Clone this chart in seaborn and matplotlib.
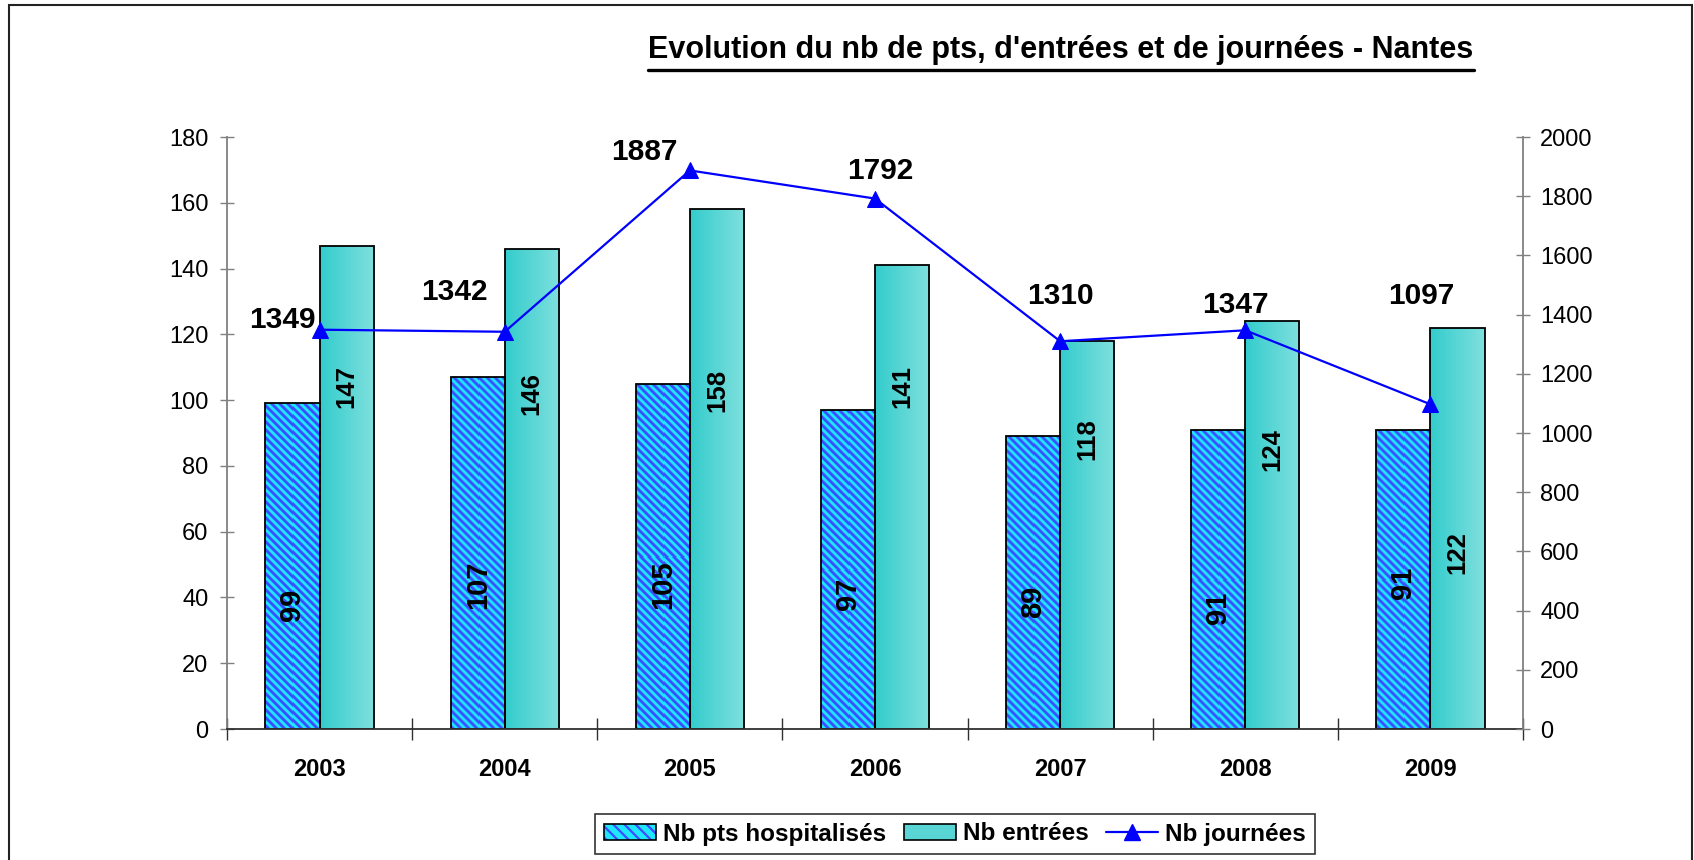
import numpy as np
import pandas as pd
import matplotlib
matplotlib.use("Agg")
import matplotlib.pyplot as plt
import seaborn as sns
from matplotlib.patches import Patch, Rectangle
from matplotlib.lines import Line2D
from matplotlib.colors import LinearSegmentedColormap, to_rgb
from matplotlib.legend_handler import HandlerTuple

# ---------------- data ----------------
years = ["2003", "2004", "2005", "2006", "2007", "2008", "2009"]
nb_pts = [99, 107, 105, 97, 89, 91, 91]
nb_entrees = [147, 146, 158, 141, 118, 124, 122]
nb_journees = [1349, 1342, 1887, 1792, 1310, 1347, 1097]
series_names = ["Nb pts hospitalisés", "Nb entrées", "Nb journées"]
title = "Evolution du nb de pts, d'entrées et de journées - Nantes"

# ---------------- layout (label placement) ----------------
pts_label_y = [37.8, 44, 44, 41, 38.8, 36.8, 44.3]
ent_label_y = [104, 102, 103, 104, 88, 85, 53.5]
journ_label_off_px = [(-37, 10), (-50, 40), (-45, 18), (5, 28), (0, 45), (-10, 25), (-9, 108)]

sns.set_theme(style="white")
plt.rcParams["font.family"] = ["Liberation Sans", "DejaVu Sans"]
plt.rcParams["hatch.linewidth"] = 1.6
plt.rcParams["text.color"] = "black"
plt.rcParams["xtick.labelcolor"] = "black"
plt.rcParams["ytick.labelcolor"] = "black"
plt.rcParams["legend.labelcolor"] = "black"

W, H = 1694, 860
fig = plt.figure(figsize=(W / 100, H / 100), dpi=100)
fig.patch.set_facecolor("white")
ax = fig.add_axes([227 / W, 1 - 729 / H, (1523 - 227) / W, (729 - 137) / H])

df = pd.DataFrame({
    "year": years * 2,
    "value": nb_pts + nb_entrees,
    "serie": [series_names[0]] * len(years) + [series_names[1]] * len(years),
})
sns.barplot(data=df, x="year", y="value", hue="serie", ax=ax, width=0.585,
            palette=["#22E2FF", "#4DD2D2"], saturation=1, edgecolor="black",
            linewidth=1.3, legend=False, errorbar=None)

ax.set_xlim(-0.5, 6.5)
ax.set_ylim(0, 180)

cyan = np.array(to_rgb("#1EE8FF"))
blue = np.array(to_rgb("#3C4CFF"))
period = 8.0

# striped bars (diagonal "\" stripes drawn as a pixel-space image clipped to each bar)
for bar in ax.containers[0]:
    x0, y0, w, h = bar.get_x(), bar.get_y(), bar.get_width(), bar.get_height()
    (px0, py0), (px1, py1) = ax.transData.transform([[x0, y0], [x0 + w, y0 + h]])
    nw, nh = max(int(round(px1 - px0)), 2), max(int(round(py1 - py0)), 2)
    xx, yy = np.meshgrid(np.arange(nw) + px0, np.arange(nh) - py1)
    t = 0.5 + 0.5 * np.cos(2 * np.pi * ((xx - yy) % period) / period)
    t = np.clip((t - 0.5) * 1.4 + 0.5, 0, 1)
    img = cyan[None, None, :] * (1 - t[..., None]) + blue[None, None, :] * t[..., None]
    im = ax.imshow(img, extent=[x0, x0 + w, y0, y0 + h], aspect="auto", origin="upper",
                   zorder=bar.get_zorder() - 0.05, interpolation="nearest")
    im.set_clip_path(bar)
    bar.set_facecolor("none")
    bar.set_edgecolor("black")

# gradient bars
cmap = LinearSegmentedColormap.from_list("tq", ["#33CCCC", "#80E0DE"])
grad = np.linspace(0, 1, 256).reshape(1, -1)
for bar in ax.containers[1]:
    x0, y0, w, h = bar.get_x(), bar.get_y(), bar.get_width(), bar.get_height()
    im = ax.imshow(grad, extent=[x0, x0 + w, y0, y0 + h], aspect="auto", cmap=cmap,
                   zorder=bar.get_zorder() - 0.05, interpolation="bilinear")
    im.set_clip_path(bar)
    bar.set_facecolor("none")
    bar.set_edgecolor("black")

ax.set_aspect("auto")
ax.set_xlim(-0.5, 6.5)
ax.set_ylim(0, 180)
ax.set_xlabel("")
ax.set_ylabel("")
ax.set_facecolor("white")

# bar value labels
for i, bar in enumerate(ax.containers[0]):
    ax.text(bar.get_x() + bar.get_width() / 2, pts_label_y[i], str(nb_pts[i]), rotation=90,
            ha="center", va="center", fontsize=21, fontweight="bold", zorder=5, color="black")
for i, bar in enumerate(ax.containers[1]):
    ax.text(bar.get_x() + bar.get_width() / 2, ent_label_y[i], str(nb_entrees[i]), rotation=90,
            ha="center", va="center", fontsize=18.5, fontweight="bold", zorder=5, color="black")

# axes styling
grey = "#808080"
for s in ["top", "right"]:
    ax.spines[s].set_visible(False)
ax.spines["left"].set_color(grey)
ax.spines["bottom"].set_color("#303030")
ax.spines["left"].set_linewidth(1.3)
ax.spines["bottom"].set_linewidth(1.3)

ax.set_yticks(np.arange(0, 181, 20))
ax.tick_params(axis="y", left=True, direction="inout", length=10.5, width=1, color=grey,
               labelsize=17, pad=8, labelcolor="black")
ax.set_xticks(np.arange(-0.5, 7, 1))
ax.set_xticklabels([""] * 8)
ax.set_xticks(np.arange(len(years)), minor=True)
ax.set_xticklabels(years, minor=True, fontsize=17, fontweight="bold")
ax.tick_params(axis="x", which="major", bottom=True, direction="inout", length=16, width=1,
               color="#303030")
ax.tick_params(axis="x", which="minor", bottom=True, length=0, pad=21, labelcolor="black")
ax.grid(False)

# line on secondary axis
ax2 = ax.twinx()
sns.lineplot(x=np.arange(len(years)), y=nb_journees, ax=ax2, color="#0000FF", marker="^",
             markersize=11, markeredgecolor="#0000FF", linewidth=1.6, legend=False)
ax2.set_ylim(0, 2000)
ax2.set_xlim(-0.5, 6.5)
for s in ["top", "left", "bottom"]:
    ax2.spines[s].set_visible(False)
ax2.spines["right"].set_color(grey)
ax2.spines["right"].set_linewidth(1.3)
ax2.set_yticks(np.arange(0, 2001, 200))
ax2.tick_params(axis="y", right=True, direction="inout", length=10.5, width=1, color=grey,
                labelsize=17, pad=7, labelcolor="black")
ax2.grid(False)

for i, v in enumerate(nb_journees):
    dx, dy = journ_label_off_px[i]
    ax2.annotate(str(v), (i, v), xytext=(dx * 0.72, dy * 0.72), textcoords="offset points",
                 ha="center", va="center", fontsize=21.5, fontweight="bold", color="black")

# title with underline
t = fig.text(1061 / W, 1 - 50 / H, title, ha="center", va="center", fontsize=22,
             fontweight="bold", color="black")
fig.canvas.draw()
bb = t.get_window_extent()
uy = 1 - 70 / H
fig.add_artist(Line2D([bb.x0 / W, bb.x1 / W], [uy, uy], transform=fig.transFigure,
                      color="black", linewidth=2.4))

# legend
h1 = (Patch(facecolor="#1EE8FF", edgecolor="#3C4CFF", hatch="\\\\\\", linewidth=0),
      Patch(fill=False, edgecolor="black", linewidth=1.2))
h2 = Patch(facecolor="#5AD5D5", edgecolor="black", linewidth=1.2)
h3 = Line2D([], [], color="#0000FF", marker="^", markersize=11, linewidth=1.6)
leg = fig.legend([h1, h2, h3], series_names, loc="center", bbox_to_anchor=(955 / W, 1 - 834 / H),
                 ncol=3, prop={"weight": "bold", "size": 17.5}, frameon=True, fancybox=False,
                 edgecolor="black", handlelength=2.15, handleheight=0.6, handletextpad=0.3,
                 columnspacing=0.7, borderpad=0.35, borderaxespad=0, labelcolor="black",
                 handler_map={tuple: HandlerTuple(ndivide=1)})
leg.get_frame().set_linewidth(1.2)

# figure border
fig.add_artist(Rectangle((9 / W, -0.02), (1692 - 9) / W, 1.02 - 5 / H, transform=fig.transFigure,
                         fill=False, edgecolor="#222222", linewidth=1.5))

fig.savefig("out.png", dpi=100, facecolor="white")
